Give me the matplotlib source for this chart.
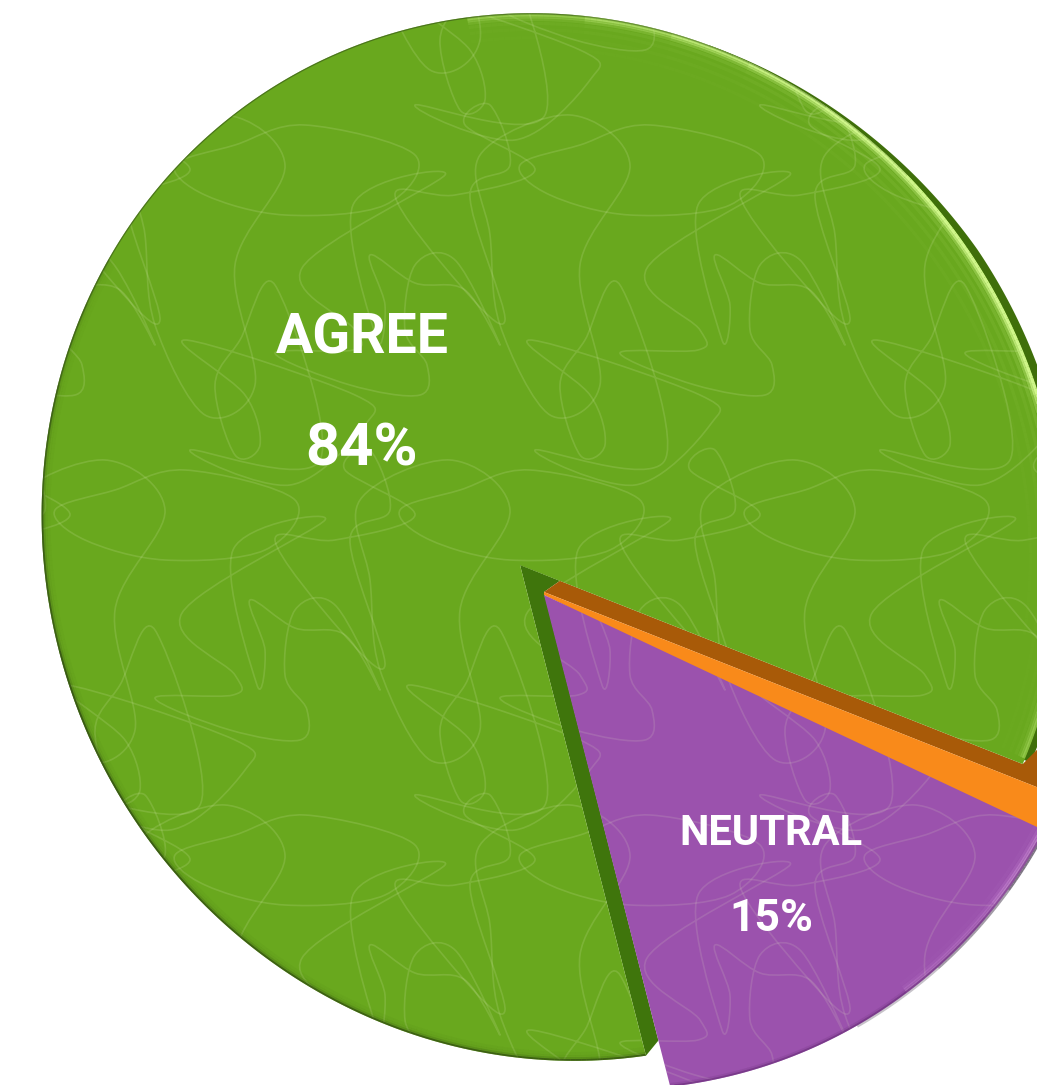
#!/usr/bin/env python3
# 3D looking exploded pie, drawn in pixel coordinates of the reference
import numpy as np
import matplotlib
matplotlib.use('Agg')
import matplotlib.pyplot as plt
from matplotlib.collections import LineCollection
from matplotlib.patches import PathPatch, Polygon
from matplotlib.path import Path

# Data
names = ['NEUTRAL', 'DISAGREE', 'AGREE']
labels = ['15%', '', '84%']
# shares as the slices are drawn (perspective makes them differ a bit from the printed labels)
drawn_pct = [14.0, 1.0, 85.0]
face_colors = ['#9b52ad', '#f98a1a', '#69a81e']

# scribble texture, one tile
scribble_a = [(187, 173), (240, 235), (238, 255), (160, 258), (235, 290), (305, 300),
              (312, 270), (290, 235), (300, 170), (340, 165), (385, 250), (350, 195),
              (300, 188), (255, 160), (270, 210), (262, 245), (238, 110), (330, 80)]
scribble_b = [(70, 245), (130, 300), (145, 350), (120, 360), (100, 290), (125, 245),
              (160, 190), (205, 365), (75, 355), (175, 390), (250, 330), (240, 300)]
scribble_c = [(350, 30), (420, 75), (340, 100), (280, 100), (345, 190), (390, 225),
              (355, 100), (395, 70), (375, 10)]
scribble_d = [(20, 60), (110, 20), (170, 70), (120, 170), (140, 290), (90, 320),
              (40, 230), (30, 140)]
scribble_e = [(190, 30), (300, 60), (270, 110), (170, 120), (90, 100), (60, 70), (120, 50)]

W, H = 1037, 1085
START = 14.4   # angle of first slice edge, from straight down going to the right


def direction(alpha):
    alpha = np.radians(alpha)
    return np.stack([np.sin(alpha), np.cos(alpha)], axis=-1)


def ellipse_ray(apex, alpha, cx, cy, a=530.0, b=505.0, rot=60.0):
    # intersection of rays from apex with the tilted outline
    d = direction(np.asarray(alpha, float))
    t = np.radians(rot)
    u = np.array([np.cos(t), np.sin(t)])
    v = np.array([np.sin(t), -np.cos(t)])
    p = np.array(apex, float) - np.array([cx, cy])
    du, dv = d @ u, d @ v
    pu, pv = p @ u, p @ v
    A = du*du/a**2 + dv*dv/b**2
    B = 2*(pu*du/a**2 + pv*dv/b**2)
    C = pu*pu/a**2 + pv*pv/b**2 - 1
    r = (-B + np.sqrt(B*B - 4*A*C))/(2*A)
    return np.array(apex, float) + r[:, None]*d


def shade(ax, pts, light, color, insets, base, power=2.0, center=None, clip=None, lw=2.4):
    # soft band along an arc, strength depends on how the edge faces the light
    c = np.array(center, float)
    for inset, k in zip(insets, base):
        q = c + (pts - c)*(1 - inset/510.0)
        n = q - c
        n = n/np.linalg.norm(n, axis=1)[:, None]
        w = np.clip(n @ np.array(light), 0, 1)**power
        # one line per strength step, overlapping segments would show as dots
        steps = np.linspace(0.1, 1.0, 6)
        for lo, hi in zip(steps[:-1], steps[1:]):
            mask = (w[:-1] >= lo) & (w[:-1] < hi + 1e-9)
            if not mask.any():
                continue
            segs = np.stack([q[:-1][mask], q[1:][mask]], axis=1)
            lc = LineCollection(segs, colors=color, alpha=k*hi, linewidths=lw, capstyle='butt', zorder=5)
            ax.add_collection(lc)
            if clip is not None:
                lc.set_clip_path(clip)


def loop_path(points, dx=0, dy=0):
    # closed smooth curve through the points (Catmull-Rom to bezier)
    p = np.array(points, float) + [dx, dy]
    n = len(p)
    verts = [p[0]]
    codes = [Path.MOVETO]
    for i in range(n):
        p0, p1, p2, p3 = p[i-1], p[i], p[(i+1) % n], p[(i+2) % n]
        verts += [p1 + (p2 - p0)/6, p2 - (p3 - p1)/6, p2]
        codes += [Path.CURVE4]*3
    return Path(verts, codes)


edges = START + np.cumsum([0] + [v*3.6 for v in drawn_pct])

fig = plt.figure(figsize=(W/100, H/100), dpi=100)
ax = fig.add_axes([0, 0, 1, 1])
ax.set_xlim(0, W)
ax.set_ylim(H, 0)
ax.axis('off')

# apex and outline centre of each slice
ap_p, ap_o, ap_g = (544, 595), (544, 592), (520, 565)
cen_p, cen_o, cen_g = (593, 566), (593, 566), (553, 537)

arc_p = ellipse_ray(ap_p, np.linspace(edges[0], edges[1], 120), *cen_p)
# orange goes a little under the purple so no gap is left
arc_o = ellipse_ray(ap_o, np.linspace(edges[1] - 1.5, edges[2], 12), *cen_o)
arc_g = ellipse_ray(ap_g, np.linspace(edges[2], edges[3], 500), *cen_g)

# dark rim behind the green face on the upper right, thinning out at its far end
a_rim = np.linspace(edges[2], 160, 260)
taper = np.clip((160 - a_rim)/35.0, 0, 1)
arc_rim = ellipse_ray(ap_g, a_rim, *cen_g) + taper[:, None]*np.array([8, -1.5])
ax.add_patch(Polygon(np.vstack([ap_g, arc_rim]), fc='#3f6f0a', ec='none', zorder=1))

# side walls
d_left = direction(edges[0])
d_right = direction(edges[2])
g_left = arc_g[-1]
g_right = arc_g[0]
wall_g = [ap_g, np.array(ap_g) + 43*d_right, ap_o, np.array(ap_p) + 460*d_left, g_left]
ax.add_patch(Polygon(wall_g, fc='#3f750c', ec='none', zorder=2))
wall_o = [ap_o, np.array(ap_g) + 43*d_right, g_right, g_right + [30, -30], np.array(ap_o) + 600*d_right]
ax.add_patch(Polygon(wall_o, fc='#a85a08', ec='none', zorder=2))

# faces
face_p = Polygon(np.vstack([ap_p, arc_p]), fc=face_colors[0], ec='none', zorder=3)
face_o = Polygon(np.vstack([ap_p, arc_o, ap_o]), fc=face_colors[1], ec='none', zorder=3)
face_g = Polygon(np.vstack([ap_g, arc_g]), fc=face_colors[2], ec='none', zorder=3)
for f in (face_g, face_o, face_p):
    ax.add_patch(f)

# scribbles, repeated over the faces
for ox in range(-350, 1100, 345):
    for iy, oy in enumerate(range(-250, 1100, 345)):
        off = 120 if iy % 2 else 0
        for s in (scribble_a, scribble_b, scribble_c, scribble_d, scribble_e):
            path = loop_path(s, ox + off, oy)
            for f, a in ((face_g, 0.15), (face_p, 0.13)):
                sc = PathPatch(path, fc='none', ec='#eaf7c8', lw=1.2, alpha=a, zorder=4)
                ax.add_patch(sc)
                sc.set_clip_path(f)

# highlights and dark edges
shade(ax, arc_g, (0.8, -0.6), '#d3f98e', [1.5, 3.5, 6, 10, 16, 24, 34], [0.95, 0.7, 0.35, 0.14, 0.07, 0.05, 0.03],
      power=3.0, center=cen_g, clip=face_g)
shade(ax, arc_g, (-0.55, 0.83), '#2f4a10', [0.2, 2, 4, 7], [0.7, 0.2, 0.08, 0.04], power=0.6, center=cen_g, clip=face_g)
shade(ax, arc_g, (-0.7, -0.7), '#35501a', [0.2], [0.6], power=0.5, center=cen_g, clip=face_g, lw=1.4)
shade(ax, arc_p, (0.95, -0.3), '#f0b8f5', [1.5, 3.5, 6, 10], [0.9, 0.6, 0.25, 0.08], power=2.0, center=cen_p, clip=face_p)
shade(ax, arc_p, (0.9, -0.4), '#20102a', [-1.0], [0.9], power=1.0, center=cen_p, lw=1.6)
shade(ax, arc_p, (0.2, 1.0), '#6a2f7a', [0.2, 2], [0.6, 0.2], power=1.0, center=cen_p, clip=face_p)

# labels
font = dict(family='Roboto', fontweight='bold', color='white', ha='center', va='baseline', zorder=6)
ax.text(362, 353, names[2], fontsize=40, **font)
ax.text(362, 466, labels[2], fontsize=43, **font)
ax.text(771, 845, names[0], fontsize=30, **font)
ax.text(771, 931, labels[0], fontsize=32, **font)

fig.savefig('out.png', dpi=100, facecolor='white')
